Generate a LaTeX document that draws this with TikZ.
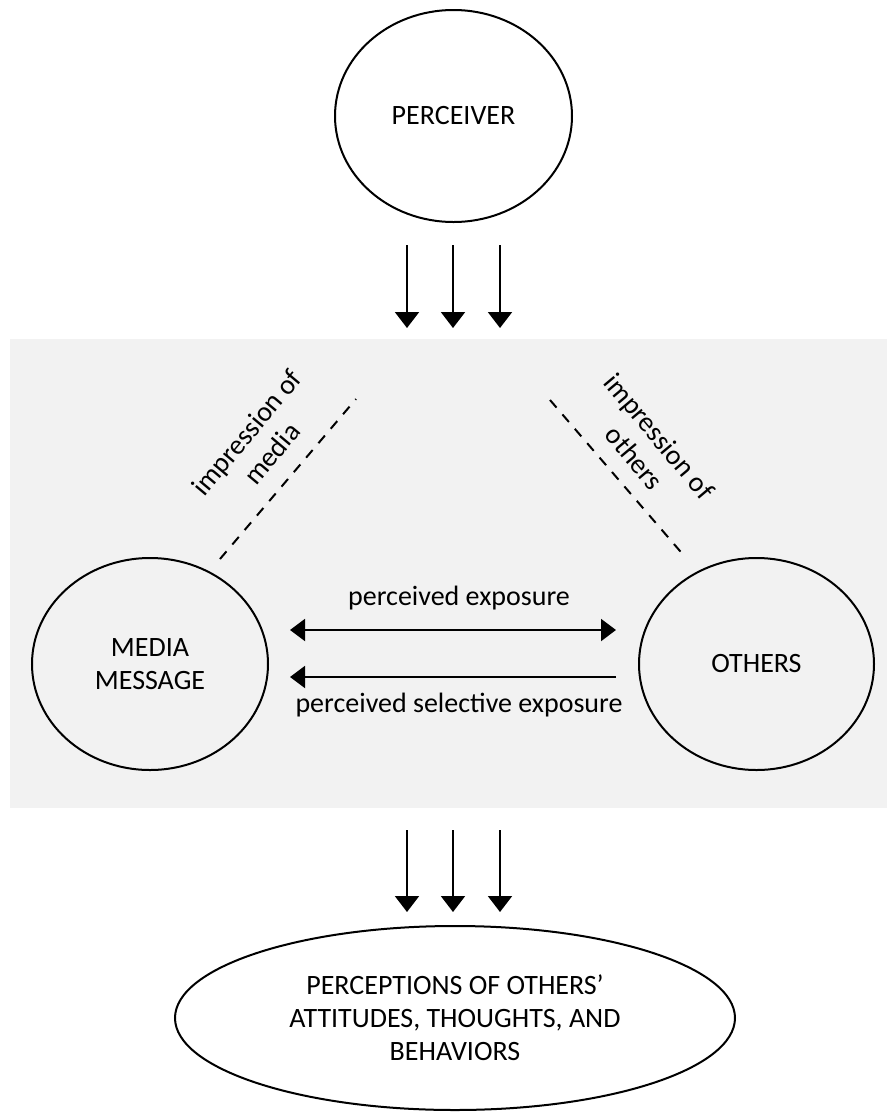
\documentclass[tikz,border=0pt]{standalone}
\usepackage{fontspec}
\setmainfont{Carlito}
\usetikzlibrary{arrows.meta,shapes.geometric}
\definecolor{bandgray}{HTML}{F2F2F2}
\tikzset{
  oval/.style={draw=black, line width=2pt, ellipse, inner sep=0pt, align=center,
    font=\fontsize{28}{33}\selectfont},
  flow/.style={line width=2pt, -{Triangle[width=24pt,length=16pt]}},
  harrow/.style={line width=2pt, -{Triangle[width=22pt,length=15pt]}},
  harrowboth/.style={line width=2pt, {Triangle[width=22pt,length=15pt]}-{Triangle[width=22pt,length=15pt]}},
  imp/.style={line width=2pt, dash pattern=on 10pt off 9pt},
  lbl/.style={font=\fontsize{28}{33}\selectfont, align=center, inner sep=0pt}
}
\begin{document}
\begin{tikzpicture}[x=1pt,y=-1pt]
\useasboundingbox (0,0) rectangle (887,1112);
\fill[bandgray] (10,339) rectangle (887,808);

\node[oval, fill=white, minimum width=237pt, minimum height=212pt] (perc) at (453.5,116) {PERCEIVER};
\node[oval, minimum width=236pt, minimum height=212pt] (media) at (150,664) {MEDIA\\MESSAGE};
\node[oval, minimum width=235pt, minimum height=212pt] (others) at (756.5,664) {OTHERS};
\node[oval, fill=white, minimum width=560pt, minimum height=184pt] (percep) at (455,1018) {PERCEPTIONS OF OTHERS'\\ATTITUDES, THOUGHTS, AND\\BEHAVIORS};

% top arrows
\coordinate (t1s) at (407,245); \coordinate (t1e) at (407,328);
\coordinate (t2s) at (453,245); \coordinate (t2e) at (453,328);
\coordinate (t3s) at (500,245); \coordinate (t3e) at (500,328);
\draw[flow] (t1s) -- (t1e);
\draw[flow] (t2s) -- (t2e);
\draw[flow] (t3s) -- (t3e);

% bottom arrows
\coordinate (b1s) at (407,830); \coordinate (b1e) at (407,912);
\coordinate (b2s) at (453,830); \coordinate (b2e) at (453,912);
\coordinate (b3s) at (500,830); \coordinate (b3e) at (500,912);
\draw[flow] (b1s) -- (b1e);
\draw[flow] (b2s) -- (b2e);
\draw[flow] (b3s) -- (b3e);

% horizontal arrows
\coordinate (e1l) at (290,630); \coordinate (e1r) at (616,630);
\coordinate (e2l) at (290,677); \coordinate (e2r) at (616,677);
\draw[harrowboth] (e1l) -- (e1r);
\draw[harrow] (e2r) -- (e2l);
\node[lbl] (pexp) at (459,598) {perceived exposure};
\node[lbl] (psel) at (459,705) {perceived selective exposure};

% dashed lines
\coordinate (dl1) at (220,559); \coordinate (dl2) at (356,399);
\coordinate (dr1) at (550,400); \coordinate (dr2) at (686,558);
\draw[imp] (dl1) -- (dl2);
\draw[imp] (dr1) -- (dr2);
\node[lbl, rotate=50] (impm) at (259,443) {impression of\\media};
\node[lbl, rotate=-50] (impo) at (647,447) {impression of\\others};
\end{tikzpicture}
\end{document}
